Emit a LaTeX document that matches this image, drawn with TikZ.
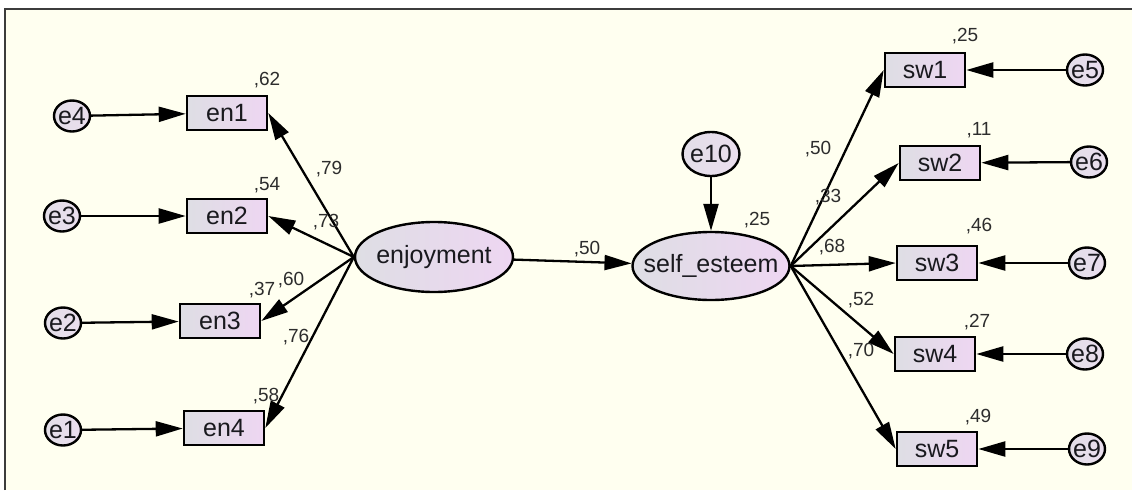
\documentclass[tikz,border=0pt]{standalone}
\usepackage{fontspec}
\setmainfont{Liberation Sans}
\usetikzlibrary{shapes.geometric,arrows.meta}
\newcommand{\mkz}[1]{\makebox[0pt][c]{#1}}
\definecolor{bgcream}{RGB}{255,255,240}
\definecolor{framec}{RGB}{60,60,60}
\definecolor{boxL}{RGB}{222,222,228}
\definecolor{boxR}{RGB}{238,214,242}
\definecolor{circF}{RGB}{234,222,238}
\definecolor{txt}{RGB}{25,25,30}
\definecolor{lbl}{RGB}{45,45,45}
\begin{document}
\begin{tikzpicture}[x=1pt,y=-1pt,
  obs/.style={draw=black,line width=2.6pt,rectangle,left color=boxL,right color=boxR,
    minimum width=80pt,minimum height=34pt,inner sep=0pt,text=txt,
    font=\fontsize{25}{27}\selectfont},
  lat/.style={draw=black,line width=2.4pt,ellipse,left color=boxL,right color=boxR,
    inner sep=0pt,text=txt,font=\fontsize{25}{27}\selectfont},
  err/.style={draw=black,line width=2.4pt,ellipse,left color=boxL!60!circF,right color=circF,
    minimum width=36pt,minimum height=31pt,inner sep=0pt,text=txt,
    font=\fontsize{25}{27}\selectfont},
  coef/.style={text=lbl,inner sep=0pt,font=\fontsize{19}{21}\selectfont},
  path/.style={draw=black,line width=2.3pt,-{Triangle[length=27pt,width=15pt]}}
]
\useasboundingbox (0,0) rectangle (1132,490);
\fill[white] (0,0) rectangle (1132,490);
\fill[bgcream] (5,9) rectangle (1132,490);
\draw[framec,line width=2pt] (5,490) -- (5,9) -- (1132,9);

% observed, left
\node[obs] (en1) at (227,113) {\mkz{en1}};
\node[obs] (en2) at (227,216) {\mkz{en2}};
\node[obs] (en3) at (220,321) {\mkz{en3}};
\node[obs] (en4) at (224,428) {\mkz{en4}};
% errors, left
\node[err] (e4) at (72,116) {\mkz{e4}};
\node[err] (e3) at (62,216) {\mkz{e3}};
\node[err] (e2) at (63,323) {\mkz{e2}};
\node[err] (e1) at (63,430) {\mkz{e1}};
% latent
\node[lat,minimum width=158pt,minimum height=70pt] (enj) at (434,257) {\mkz{enjoyment}};
\node[lat,minimum width=157pt,minimum height=68pt] (se) at (711,266) {\mkz{self\_esteem}};
\node[err,minimum width=57pt,minimum height=44pt] (e10) at (711,154) {\mkz{e10}};
% observed, right
\node[obs] (sw1) at (925,70) {\mkz{sw1}};
\node[obs] (sw2) at (940,163) {\mkz{sw2}};
\node[obs] (sw3) at (937,263) {\mkz{sw3}};
\node[obs] (sw4) at (935,354) {\mkz{sw4}};
\node[obs] (sw5) at (937,449) {\mkz{sw5}};
% errors, right
\node[err] (e5) at (1085,70) {\mkz{e5}};
\node[err] (e6) at (1089,162) {\mkz{e6}};
\node[err] (e7) at (1087,263) {\mkz{e7}};
\node[err] (e8) at (1085,354) {\mkz{e8}};
\node[err] (e9) at (1087,449) {\mkz{e9}};

% paths
\draw[path] (e4) -- (en1);
\draw[path] (e3) -- (en2);
\draw[path] (e2) -- (en3);
\draw[path] (e1) -- (en4);
\draw[path] (enj.west) -- (en1.east);
\draw[path] (enj.west) -- (en2.east);
\draw[path] (enj.west) -- (en3.east);
\draw[path] (enj.west) -- (en4.east);
\draw[path] (enj) -- (se);
\draw[path] (e10) -- (se);
\draw[path] (se.east) -- (sw1.west);
\draw[path] (se.east) -- (sw2.west);
\draw[path] (se.east) -- (sw3.west);
\draw[path] (se.east) -- (sw4.west);
\draw[path] (se.east) -- (sw5.west);
\draw[path] (e5) -- (sw1);
\draw[path] (e6) -- (sw2);
\draw[path] (e7) -- (sw3);
\draw[path] (e8) -- (sw4);
\draw[path] (e9) -- (sw5);

% coefficients
\node[coef] (r1) at (267,80) {,62};
\node[coef] (l1) at (329,169) {,79};
\node[coef] (r2) at (267,185) {,54};
\node[coef] (l2) at (326,222) {,73};
\node[coef] (r3) at (262,290) {,37};
\node[coef] (l3) at (291,280) {,60};
\node[coef] (l4) at (296,337) {,76};
\node[coef] (r4) at (266,396) {,58};
\node[coef] (l5) at (587,249) {,50};
\node[coef] (r5) at (757,220) {,25};
\node[coef] (r6) at (965,36) {,25};
\node[coef] (l6) at (818,149) {,50};
\node[coef] (r7) at (979,130) {,11};
\node[coef] (l7) at (828,197) {,33};
\node[coef] (r8) at (979,226) {,46};
\node[coef] (l8) at (832,247) {,68};
\node[coef] (l9) at (861,300) {,52};
\node[coef] (r9) at (977,322) {,27};
\node[coef] (l10) at (861,351) {,70};
\node[coef] (r10) at (978,417) {,49};
\end{tikzpicture}
\end{document}
